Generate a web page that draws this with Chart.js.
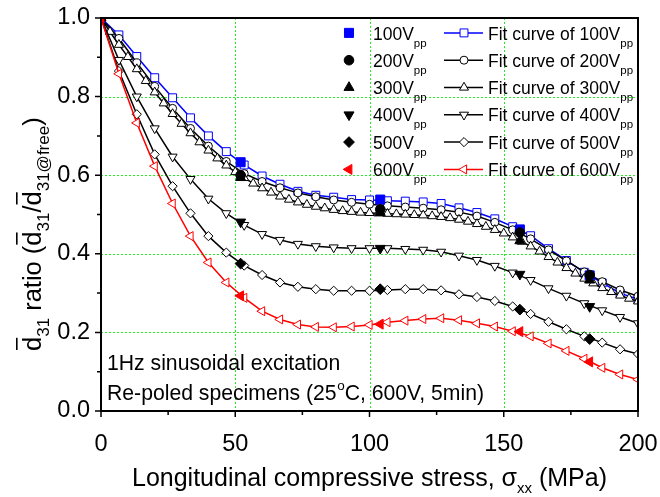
<!DOCTYPE html>
<html>
<head>
<meta charset="utf-8">
<script src="https://cdn.jsdelivr.net/npm/chart.js@4.4.1/dist/chart.umd.min.js"></script>
<style>
  html, body { margin: 0; padding: 0; background: #fff; }
  #wrap { width: 660px; height: 497px; position: relative; }
</style>
</head>
<body>
<div id="wrap"><canvas id="c" width="660" height="497"></canvas></div>
<script>
// ---- data ----
// stress levels (MPa) of the fitted curves
const stressFit = [0, 6.67, 13.33, 20, 26.67, 33.33, 40, 46.67, 53.33, 60, 66.67, 73.33, 80, 86.67, 93.33, 100,
  106.67, 113.33, 120, 126.67, 133.33, 140, 146.67, 153.33, 160, 166.67, 173.33, 180, 186.67, 193.33, 200];
// finer stress grid used by the 300 Vpp fit
const stressFine = [0, 3.33, 6.67, 10, 13.33, 16.67, 20, 23.33, 26.67, 30, 33.33, 36.67, 40, 43.33, 46.67, 50,
  53.33, 56.67, 60, 63.33, 66.67, 70, 73.33, 76.67, 80, 83.33, 86.67, 90, 93.33, 96.67, 100,
  103.33, 106.67, 110, 113.33, 116.67, 120, 123.33, 126.67, 130, 133.33, 136.67, 140, 143.33, 146.67, 150,
  153.33, 156.67, 160, 163.33, 166.67, 170, 173.33, 176.67, 180, 183.33, 186.67, 190, 193.33, 196.67, 200];
// stress levels of the measurements
const stressMeasured = [0, 52, 104, 156, 182];

// measured d31 ratio
const meas100 = [1.0, 0.633, 0.538, 0.462, 0.345];
const meas200 = [1.0, 0.600, 0.513, 0.454, 0.346];
const meas300 = [1.0, 0.594, 0.505, 0.433, 0.333];
const meas400 = [1.0, 0.481, 0.414, 0.348, 0.266];
const meas500 = [1.0, 0.375, 0.310, 0.258, 0.183];
const meas600 = [1.0, 0.293, 0.221, 0.202, 0.125];

// fitted d31 ratio
const fit100 = [1.0, 0.957, 0.902, 0.848, 0.797, 0.746, 0.700, 0.660, 0.626, 0.598, 0.577, 0.559, 0.549, 0.544, 0.538, 0.537,
  0.535, 0.534, 0.532, 0.528, 0.517, 0.505, 0.489, 0.469, 0.446, 0.413, 0.383, 0.353, 0.326, 0.300, 0.284];
const fit200 = [1.0, 0.948, 0.886, 0.826, 0.770, 0.719, 0.674, 0.635, 0.604, 0.584, 0.568, 0.555, 0.545, 0.537, 0.531, 0.526,
  0.522, 0.519, 0.516, 0.512, 0.506, 0.496, 0.480, 0.461, 0.438, 0.410, 0.382, 0.354, 0.329, 0.308, 0.292];
const fit300 = [1.0, 0.965, 0.932, 0.901, 0.870, 0.840, 0.811, 0.783, 0.756, 0.731, 0.707, 0.684, 0.663, 0.643, 0.625, 0.608,
  0.593, 0.579, 0.567, 0.556, 0.546, 0.538, 0.531, 0.525, 0.520, 0.516, 0.512, 0.509, 0.507, 0.505, 0.504,
  0.503, 0.502, 0.501, 0.500, 0.499, 0.498, 0.496, 0.494, 0.491, 0.487, 0.482, 0.476, 0.469, 0.461, 0.452,
  0.442, 0.431, 0.419, 0.406, 0.392, 0.378, 0.364, 0.350, 0.337, 0.325, 0.313, 0.303, 0.294, 0.286, 0.279];
const fit400 = [1.0, 0.893, 0.800, 0.719, 0.647, 0.590, 0.540, 0.503, 0.473, 0.450, 0.435, 0.425, 0.419, 0.416, 0.414, 0.414,
  0.414, 0.412, 0.410, 0.405, 0.395, 0.384, 0.369, 0.352, 0.333, 0.312, 0.293, 0.274, 0.256, 0.239, 0.223];
const fit500 = [1.0, 0.865, 0.755, 0.653, 0.572, 0.503, 0.445, 0.403, 0.370, 0.346, 0.327, 0.316, 0.310, 0.306, 0.306, 0.306,
  0.308, 0.310, 0.310, 0.307, 0.297, 0.290, 0.280, 0.266, 0.247, 0.227, 0.208, 0.190, 0.174, 0.157, 0.145];
const fit600 = [1.0, 0.858, 0.733, 0.623, 0.528, 0.445, 0.378, 0.327, 0.288, 0.254, 0.233, 0.220, 0.214, 0.213, 0.215, 0.219,
  0.226, 0.230, 0.234, 0.236, 0.231, 0.223, 0.215, 0.203, 0.190, 0.172, 0.153, 0.133, 0.110, 0.093, 0.080];

const voltageLabels = ['100V', '200V', '300V', '400V', '500V', '600V'];
const xTicks = [0, 50, 100, 150, 200];
const yTicks = [0.0, 0.2, 0.4, 0.6, 0.8, 1.0];
const xGrid = [50, 100, 150];
const yGrid = [0.2, 0.4, 0.6, 0.8];

// ---- styling ----
const FONT = '"Liberation Sans", Arial, Helvetica, sans-serif';
const BLUE = '#0000ff', RED = '#ff0000', BLACK = '#000000';
const GRIDGREEN = '#22ee22';

const series = [
  { v: voltageLabels[0], meas: meas100, fit: fit100, xs: stressFit,  color: BLUE,  style: 'rect',     rot: 0,   rm: 6.4, rf: 5.6 },
  { v: voltageLabels[1], meas: meas200, fit: fit200, xs: stressFit,  color: BLACK, style: 'circle',   rot: 0,   rm: 4.8, rf: 4.0 },
  { v: voltageLabels[2], meas: meas300, fit: fit300, xs: stressFine, color: BLACK, style: 'triangle', rot: 0,   rm: 5.8, rf: 5.2 },
  { v: voltageLabels[3], meas: meas400, fit: fit400, xs: stressFit,  color: BLACK, style: 'triangle', rot: 180, rm: 5.8, rf: 5.2 },
  { v: voltageLabels[4], meas: meas500, fit: fit500, xs: stressFit,  color: BLACK, style: 'rectRot',  rot: 0,   rm: 5.4, rf: 4.6 },
  { v: voltageLabels[5], meas: meas600, fit: fit600, xs: stressFit,  color: RED,   style: 'triangle', rot: -90, rm: 5.8, rf: 5.2 }
];

const toPoints = (xs, ys) => ys.map((y, i) => ({ x: xs[i], y: y }));

const datasets = [];
series.forEach((s, i) => {
  datasets.push({
    label: 'Fit curve of ' + s.v,
    data: toPoints(s.xs, s.fit),
    borderColor: s.color,
    borderWidth: 1.5,
    pointStyle: s.style,
    pointRotation: s.rot,
    pointRadius: s.rf,
    pointBorderWidth: 1,
    pointBorderColor: s.color,
    pointBackgroundColor: '#ffffff',
    tension: 0,
    fill: false,
    order: 12 - i
  });
});
series.forEach((s, i) => {
  datasets.push({
    label: s.v,
    data: toPoints(stressMeasured, s.meas),
    showLine: false,
    pointStyle: s.style,
    pointRotation: s.rot,
    pointRadius: s.rm,
    pointBorderWidth: 1,
    pointBorderColor: s.color,
    pointBackgroundColor: s.color,
    order: 6 - i
  });
});

// ---- marker drawing for the legend ----
function marker(ctx, s, x, y, r, filled) {
  ctx.save();
  ctx.lineWidth = 1;
  ctx.strokeStyle = s.color;
  ctx.fillStyle = filled ? s.color : '#ffffff';
  if (Chart.helpers && Chart.helpers.drawPoint) {
    Chart.helpers.drawPoint(ctx, { pointStyle: s.style, rotation: s.rot, radius: r, borderWidth: 1 }, x, y);
  } else {
    ctx.beginPath();
    ctx.arc(x, y, r, 0, Math.PI * 2);
    ctx.fill(); ctx.stroke();
  }
  ctx.restore();
}

// text with a subscript, returns the end x
function textSub(ctx, main, sub, x, y, mainFont, subFont, dy) {
  ctx.font = mainFont;
  ctx.fillText(main, x, y);
  let w = ctx.measureText(main).width;
  ctx.font = subFont;
  ctx.fillText(sub, x + w, y + dy);
  return x + w + ctx.measureText(sub).width;
}

// dotted green grid, drawn under the data
const dottedGrid = {
  id: 'dottedGrid',
  beforeDatasetsDraw(chart) {
    const ctx = chart.ctx, a = chart.chartArea;
    const xs = chart.scales.x, ys = chart.scales.y;
    ctx.save();
    ctx.strokeStyle = GRIDGREEN;
    ctx.lineWidth = 1;
    ctx.setLineDash([2, 2]);
    ctx.beginPath();
    xGrid.forEach(v => { const px = Math.round(xs.getPixelForValue(v)) + 0.5; ctx.moveTo(px, a.top); ctx.lineTo(px, a.bottom); });
    yGrid.forEach(v => { const py = Math.round(ys.getPixelForValue(v)) + 0.5; ctx.moveTo(a.left, py); ctx.lineTo(a.right, py); });
    ctx.stroke();
    ctx.restore();
  }
};

const decorations = {
  id: 'decorations',
  afterDraw(chart) {
    const ctx = chart.ctx;
    const a = chart.chartArea;
    const xs = chart.scales.x, ys = chart.scales.y;
    ctx.save();
    ctx.fillStyle = '#000';
    ctx.strokeStyle = '#000';

    // frame
    ctx.lineWidth = 2;
    ctx.strokeRect(a.left, a.top, a.right - a.left, a.bottom - a.top);

    // ticks (outward): majors and minors
    ctx.lineWidth = 1.5;
    ctx.beginPath();
    for (let v = 0; v <= 200; v += 25) {
      const px = xs.getPixelForValue(v);
      const len = (v % 50 === 0) ? 6 : 4;
      ctx.moveTo(px, a.bottom); ctx.lineTo(px, a.bottom + len);
    }
    for (let k = 0; k <= 10; k++) {
      const py = ys.getPixelForValue(k / 10);
      const len = (k % 2 === 0) ? 6 : 4;
      ctx.moveTo(a.left, py); ctx.lineTo(a.left - len, py);
    }
    ctx.stroke();

    // legend
    const rowY = [39.5, 66.8, 94.1, 121.4, 148.7, 176];
    const legFont = '17.5px ' + FONT, legSub = '11.5px ' + FONT;
    ctx.textBaseline = 'alphabetic';
    ctx.textAlign = 'left';
    series.forEach((s, i) => {
      const by = rowY[i];
      const cy = by - 6.6;
      marker(ctx, s, 349, cy, s.rm, true);
      ctx.fillStyle = '#000';
      textSub(ctx, s.v, 'pp', 373, by, legFont, legSub, 7);
      ctx.save();
      ctx.strokeStyle = s.color; ctx.lineWidth = 1.5;
      ctx.beginPath(); ctx.moveTo(444, cy); ctx.lineTo(483, cy); ctx.stroke();
      ctx.restore();
      marker(ctx, s, 464, cy, s.rf, false);
      ctx.fillStyle = '#000';
      textSub(ctx, 'Fit curve of ' + s.v, 'pp', 488, by, legFont, legSub, 7);
    });

    // annotations
    const noteFont = '21.2px ' + FONT;
    ctx.font = noteFont;
    ctx.fillText('1Hz sinusoidal excitation', 107, 370);
    let x = 107;
    const part1 = 'Re-poled specimens (25';
    ctx.fillText(part1, x, 400);
    x += ctx.measureText(part1).width;
    ctx.font = '13.5px ' + FONT;
    ctx.fillText('o', x + 0.5, 390);
    x += ctx.measureText('o').width + 0.5;
    ctx.font = noteFont;
    ctx.fillText('C, 600V, 5min)', x, 400);

    // x axis title
    const tFont = '25px ' + FONT, tSub = '15px ' + FONT;
    ctx.font = tFont;
    const t1 = 'Longitudinal compressive stress, \u03c3';
    const t2 = ' (MPa)';
    const w1 = ctx.measureText(t1).width, w3 = ctx.measureText(t2).width;
    ctx.font = tSub;
    const w2 = ctx.measureText('xx').width;
    let tx = (a.left + a.right) / 2 - (w1 + w2 + w3) / 2;
    ctx.font = tFont; ctx.fillText(t1, tx, 486); tx += w1;
    ctx.font = tSub; ctx.fillText('xx', tx, 493); tx += w2;
    ctx.font = tFont; ctx.fillText(t2, tx, 486);

    // y axis title (rotated), d with overbar
    ctx.save();
    ctx.translate(41, 351);
    ctx.rotate(-Math.PI / 2);
    let yx = 0;
    const yBig = '25.5px ' + FONT, ySmall = '17px ' + FONT;
    const seg = (t, f, dy) => { ctx.font = f; ctx.fillText(t, yx, dy); yx += ctx.measureText(t).width; };
    const dbar = () => {
      ctx.font = yBig;
      const w = ctx.measureText('d').width;
      ctx.fillText('d', yx, 0);
      ctx.fillRect(yx + 1, -25, w - 2, 1.6);
      yx += w;
    };
    dbar(); seg('31', ySmall, 8); seg(' ratio (', yBig, 0);
    dbar(); seg('31', ySmall, 8); seg('/', yBig, 0);
    dbar(); seg('31@free', ySmall, 8); seg(')', yBig, 0);
    ctx.restore();

    ctx.restore();
  }
};

new Chart(document.getElementById('c'), {
  type: 'line',
  data: { datasets: datasets },
  options: {
    responsive: false,
    animation: false,
    devicePixelRatio: 1,
    layout: { padding: { top: 18, right: 22, left: 0, bottom: 0 } },
    plugins: { legend: { display: false }, tooltip: { enabled: false }, title: { display: false } },
    scales: {
      x: {
        type: 'linear', min: 0, max: 200,
        afterFit: (s) => { s.height = 86; s.paddingLeft = 0; s.paddingRight = 0; },
        afterBuildTicks: (s) => { s.ticks = xTicks.map(v => ({ value: v })); },
        ticks: { font: { size: 23.5, family: FONT }, color: '#000', padding: 19, maxRotation: 0, autoSkip: false },
        grid: { display: false, drawTicks: false },
        border: { display: false }
      },
      y: {
        type: 'linear', min: 0, max: 1.0,
        afterFit: (s) => { s.width = 101; s.paddingTop = 0; s.paddingBottom = 0; },
        afterBuildTicks: (s) => { s.ticks = yTicks.map(v => ({ value: v })); },
        ticks: { font: { size: 23.5, family: FONT }, color: '#000', padding: 11, callback: (v) => Number(v).toFixed(1) },
        grid: { display: false, drawTicks: false },
        border: { display: false }
      }
    }
  },
  plugins: [dottedGrid, decorations]
});
</script>
</body>
</html>
